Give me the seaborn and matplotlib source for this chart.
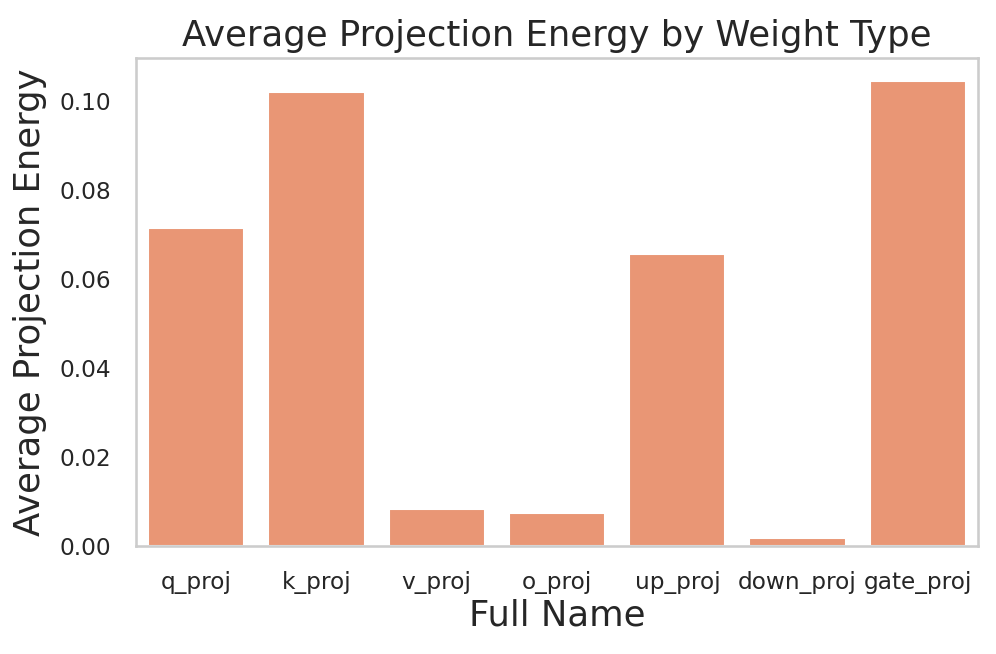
import matplotlib
matplotlib.use('Agg')
import matplotlib.pyplot as plt
import seaborn as sns
import pandas as pd

names = ["q_proj", "k_proj", "v_proj", "o_proj", "up_proj", "down_proj", "gate_proj"]
energy = [0.0713, 0.1019, 0.0083, 0.0074, 0.0655, 0.0019, 0.1043]

def main():
    sns.set_theme(style="whitegrid")
    df = pd.DataFrame({"Full Name": names, "Average Projection Energy": energy})

    fig = plt.figure(figsize=(6.64, 4.36), dpi=150)
    ax = fig.add_axes([0.1365, 0.165, 0.8455, 0.746])
    sns.barplot(data=df, x="Full Name", y="Average Projection Energy", color="#fc8d62", ax=ax)
    ax.grid(False)
    ax.set_title("Average Projection Energy by Weight Type", fontsize=17)
    ax.set_xlabel("Full Name", fontsize=17, labelpad=2)
    ax.set_ylabel("Average Projection Energy", fontsize=17, labelpad=6)
    ax.tick_params(labelsize=11.2, pad=6)
    fig.savefig("out.png", dpi=150)

if __name__ == '__main__':
    main()
